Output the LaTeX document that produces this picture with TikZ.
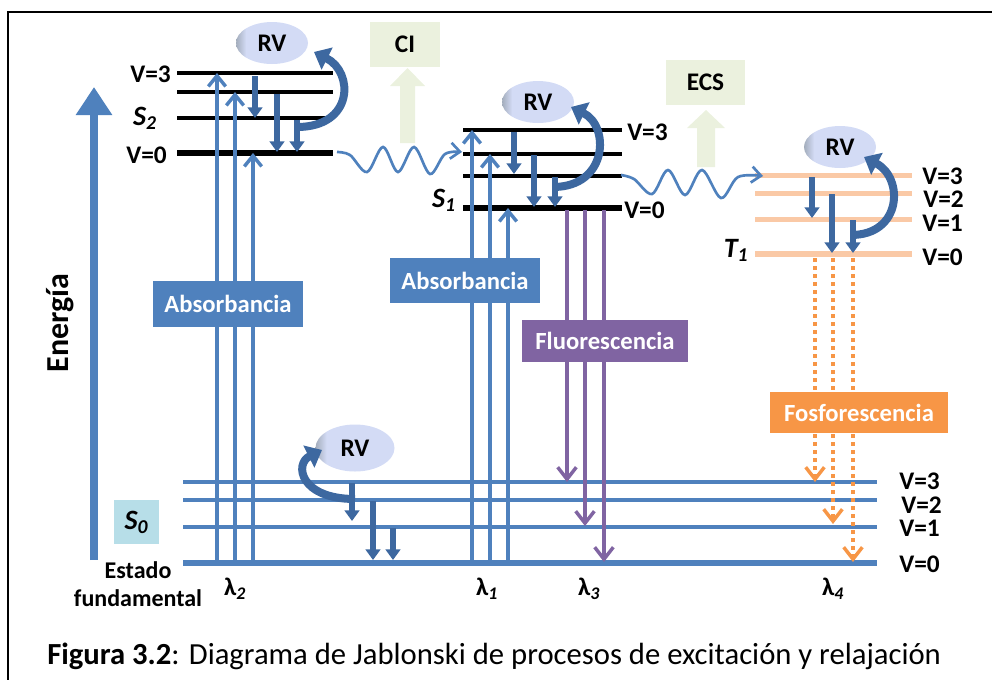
\documentclass[tikz,border=0pt]{standalone}
\usepackage{fontspec}
\setmainfont{Carlito}
\usetikzlibrary{arrows.meta,shapes.geometric}
\definecolor{lvblue}{HTML}{4F81BD}
\definecolor{rvdark}{HTML}{3D68A0}
\definecolor{purp}{HTML}{8064A2}
\definecolor{orng}{HTML}{F79646}
\definecolor{peach}{HTML}{FAC9A6}
\definecolor{pgreen}{HTML}{EBF1DE}
\definecolor{sblue}{HTML}{B7DEE8}
\definecolor{rvlav}{HTML}{D3DBF5}
\definecolor{rvgrey}{HTML}{A3ADBC}
\pgfdeclarehorizontalshading{rvshade}{100bp}{color(0bp)=(rvgrey); color(25bp)=(rvgrey); color(32bp)=(rvlav); color(100bp)=(rvlav)}
\tikzset{
  bt/.style={font=\bfseries\fontsize{19}{22}\selectfont, inner sep=0pt},
  vl/.style={bt, anchor=west},
  vr/.style={bt, anchor=east},
  sl/.style={font=\bfseries\itshape\fontsize{21}{23}\selectfont, inner sep=0pt},
  lam/.style={font=\bfseries\fontsize{19}{22}\selectfont, inner sep=0pt},
  boxt/.style={font=\bfseries\fontsize{18.5}{21}\selectfont, text=white, inner sep=0pt},
  rvell/.style={ellipse, shading=rvshade, inner sep=0pt, minimum width=54pt, minimum height=31.5pt, font=\bfseries\fontsize{19}{21}\selectfont},
  lvk/.style={line width=3pt},
  lvk0/.style={line width=5pt},
  absarr/.style={lvblue, line width=2.6pt, -{Straight Barb[length=8pt,width=13pt]}},
  rvarr/.style={rvdark, line width=4.5pt, -{Triangle[length=8pt,width=11pt]}},
  rvcurve/.style={rvdark, line width=6pt, -{Triangle[length=11pt,width=18pt]}},
  fluo/.style={purp, line width=2.6pt, -{Straight Barb[length=9pt,width=14pt]}},
  phos/.style={orng, line width=2.6pt, dash pattern=on 3pt off 3pt, -{Straight Barb[length=9pt,width=14pt]}},
  wave/.style={lvblue, line width=2pt, -{Straight Barb[length=7pt,width=12pt]}},
}
\begin{document}
\begin{tikzpicture}[x=0.75pt,y=-0.75pt]
\useasboundingbox (0,0) rectangle (992,679);
% frame
\draw[line width=1.5pt] (8,690) -- (8,12) -- (1000,12);

% energy axis
\coordinate (ebot) at (94,560);
\coordinate (etop) at (94,87);
\draw[lvblue, line width=5.5pt, -{Triangle[length=21pt,width=26pt]}] (ebot) -- (etop);
\node[rotate=90, font=\bfseries\fontsize{24}{28}\selectfont, inner sep=0pt] (energia) at (60,323) {Energía};

% ---------- S0 levels ----------
\draw[lvblue, lvk] (183,482) -- (877,482);
\draw[lvblue, lvk] (183,500) -- (877,500);
\draw[lvblue, lvk] (183,527) -- (877,527);
\draw[lvblue, lvk0] (183,563) -- (877,563);
\node[vl] (s0v3) at (899,481) {V=3};
\node[vl] (s0v2) at (901,505) {V=2};
\node[vl] (s0v1) at (899,528) {V=1};
\node[vl] (s0v0) at (899,564) {V=0};
\node[fill=sblue, minimum width=33.75pt, minimum height=33pt, inner sep=0pt, font=\bfseries\itshape\fontsize{21}{23}\selectfont] (s0box) at (136.5,522) {S\textsubscript{0}};
\node[font=\bfseries\fontsize{18}{21}\selectfont, align=center, inner sep=0pt] (estado) at (138,584) {Estado\\fundamental};

% ---------- S2 levels ----------
\draw[lvk] (177,73) -- (333,73);
\draw[lvk] (177,92) -- (333,92);
\draw[lvk] (177,118) -- (333,118);
\draw[lvk0] (177,153) -- (333,153);
\node[vr] (s2v3) at (171,74) {V=3};
\node[sl] (s2lab) at (145,118) {S\textsubscript{2}};
\node[vr] (s2v0) at (167,155) {V=0};

% ---------- S1 levels ----------
\draw[lvk] (463,130) -- (622,130);
\draw[lvk] (463,154) -- (622,154);
\draw[lvk] (463,176) -- (622,176);
\draw[lvk0] (463,208) -- (622,208);
\node[vl] (s1v3) at (627,132) {V=3};
\node[sl] (s1lab) at (444,200) {S\textsubscript{1}};
\node[vl] (s1v0) at (624,210) {V=0};

% ---------- T1 levels ----------
\draw[peach, line width=3.75pt] (755,175) -- (912,175);
\draw[peach, line width=3.75pt] (755,193) -- (912,193);
\draw[peach, line width=3.75pt] (755,219) -- (912,219);
\draw[peach, line width=5pt] (755,254) -- (912,254);
\node[vl] (t1v3) at (922,176) {V=3};
\node[vl] (t1v2) at (923,199) {V=2};
\node[vl] (t1v1) at (922,223) {V=1};
\node[vl] (t1v0) at (922,257) {V=0};
\node[sl] (t1lab) at (736,250) {T\textsubscript{1}};

% ---------- absorption arrows ----------
\coordinate (a1s) at (217,563); \coordinate (a1e) at (217,73);
\coordinate (a2s) at (235,563); \coordinate (a2e) at (235,92);
\coordinate (a3s) at (253,563); \coordinate (a3e) at (253,153);
\coordinate (a4s) at (472,563); \coordinate (a4e) at (472,130);
\coordinate (a5s) at (490,563); \coordinate (a5e) at (490,154);
\coordinate (a6s) at (508,563); \coordinate (a6e) at (508,208);
\foreach \i in {1,...,6} \draw[absarr] (a\i s) -- (a\i e);

% ---------- fluorescence ----------
\coordinate (f1s) at (567,210); \coordinate (f1e) at (567,482);
\coordinate (f2s) at (585,210); \coordinate (f2e) at (585,526);
\coordinate (f3s) at (604,210); \coordinate (f3e) at (604,562);
\foreach \i in {1,2,3} \draw[fluo] (f\i s) -- (f\i e);

% ---------- phosphorescence ----------
\coordinate (p1s) at (815,258); \coordinate (p1e) at (815,482);
\coordinate (p2s) at (833,258); \coordinate (p2e) at (833,524);
\coordinate (p3s) at (853,258); \coordinate (p3e) at (853,562);
\foreach \i in {1,2,3} \draw[phos] (p\i s) -- (p\i e);

% ---------- label boxes ----------
\node[fill=lvblue, minimum width=112.5pt, minimum height=34.5pt, boxt] (abs1) at (228,304) {Absorbancia};
\node[fill=lvblue, minimum width=112.5pt, minimum height=34pt, boxt] (abs2) at (465,280.5) {Absorbancia};
\node[fill=purp, minimum width=124.5pt, minimum height=31.5pt, boxt] (fluob) at (605,341) {Fluorescencia};
\node[fill=orng, minimum width=133.5pt, minimum height=30.75pt, boxt] (fosb) at (859,412.5) {Fosforescencia};

% ---------- CI / ECS ----------
\node[fill=pgreen, minimum width=52.5pt, minimum height=33.75pt, inner sep=0pt, font=\bfseries\fontsize{19}{21}\selectfont] (ci) at (405,44.5) {CI};
\fill[pgreen] (400,143) -- (400,86) -- (390,86) -- (407.5,68) -- (425,86) -- (415,86) -- (415,143) -- cycle;
\node[fill=pgreen, minimum width=59.25pt, minimum height=33.75pt, inner sep=0pt, font=\bfseries\fontsize{19}{21}\selectfont] (ecs) at (705.5,82.5) {ECS};
\fill[pgreen] (697,167) -- (697,128) -- (687,128) -- (706,110) -- (725,128) -- (715,128) -- (715,167) -- cycle;

% ---------- wavy (intersystem) ----------
\coordinate (w1s) at (337,152); \coordinate (w1e) at (462,152);
\coordinate (w2s) at (621,175); \coordinate (w2e) at (763,176);
\draw[wave] plot[smooth, tension=0.55] coordinates {(w1s) (350,155) (367,172) (383,147) (398,172) (414,147) (430,174) (445,154) (w1e)};
\draw[wave] plot[smooth, tension=0.55] coordinates {(w2s) (634,179) (652,194) (668,170) (685,195) (702,170) (721,198) (738,177) (w2e)};

% ---------- RV ellipses ----------
\node[rvell] (rv2) at (272,43) {RV};
\node[rvell] (rv1) at (538,102) {RV};
\node[rvell] (rvt) at (840,147) {RV};
\node[rvell, minimum width=59.25pt, minimum height=35.25pt] (rv0) at (355,448) {RV};

% ---------- RV down arrows ----------
\coordinate (r1s) at (255,76);  \coordinate (r1e) at (255,118);
\coordinate (r2s) at (277,94);  \coordinate (r2e) at (277,152);
\coordinate (r3s) at (297,120); \coordinate (r3e) at (297,152);
\coordinate (r4s) at (514,132); \coordinate (r4e) at (514,174);
\coordinate (r5s) at (534,155); \coordinate (r5e) at (534,207);
\coordinate (r6s) at (555,177); \coordinate (r6e) at (555,207);
\coordinate (r7s) at (812,177); \coordinate (r7e) at (812,218);
\coordinate (r8s) at (832,194); \coordinate (r8e) at (832,253);
\coordinate (r9s) at (853,220); \coordinate (r9e) at (853,253);
\coordinate (r10s) at (352,483); \coordinate (r10e) at (352,521);
\coordinate (r11s) at (373,501); \coordinate (r11e) at (373,560);
\coordinate (r12s) at (393,528); \coordinate (r12e) at (393,560);
\foreach \i in {1,...,12} \draw[rvarr] (r\i s) -- (r\i e);

% ---------- RV curved arrows ----------
\coordinate (c2s) at (297,127); \coordinate (c2e) at (314,52);
\draw[rvcurve] (c2s) .. controls (354,127) and (354,72) .. (c2e);
\coordinate (c1s) at (553,187); \coordinate (c1e) at (571,107);
\draw[rvcurve] (c1s) .. controls (608,187) and (610,126) .. (c1e);
\coordinate (cts) at (851,235); \coordinate (cte) at (864,157);
\draw[rvcurve] (cts) .. controls (902,235) and (904,178) .. (cte);
\coordinate (c0s) at (355,499); \coordinate (c0e) at (322,450);
\draw[rvcurve] (c0s) .. controls (300,499) and (294,464) .. (c0e);

% ---------- lambdas ----------
\node[lam] (l2) at (235,589) {λ\textsubscript{\itshape 2}};
\node[lam] (l1) at (487,589) {λ\textsubscript{\itshape 1}};
\node[lam] (l3) at (589,589) {λ\textsubscript{\itshape 3}};
\node[lam] (l4) at (833,589) {λ\textsubscript{\itshape 4}};

% ---------- caption ----------
\node[anchor=west, inner sep=0pt, font=\fontsize{23}{27}\selectfont] (cap) at (47,656) {\textbf{Figura 3.2}: Diagrama de Jablonski de procesos de excitación y relajación};
\end{tikzpicture}
\end{document}
